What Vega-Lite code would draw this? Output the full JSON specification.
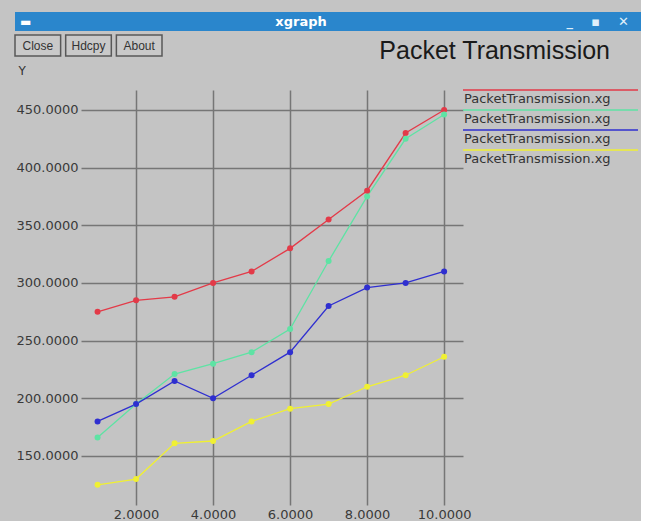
{
  "$schema": "https://vega.github.io/schema/vega-lite/v6.json",
  "background": "#c4c4c4",
  "padding": {"left": 14, "top": 12, "right": 0, "bottom": 0},
  "config": {"view": {"stroke": null}, "font": "DejaVu Sans"},
  "datasets": {
    "series": [
      {"s": "s1", "x": 1, "y": 275}, {"s": "s1", "x": 2, "y": 285}, {"s": "s1", "x": 3, "y": 288}, {"s": "s1", "x": 4, "y": 300}, {"s": "s1", "x": 5, "y": 310},
      {"s": "s1", "x": 6, "y": 330}, {"s": "s1", "x": 7, "y": 355}, {"s": "s1", "x": 8, "y": 380}, {"s": "s1", "x": 9, "y": 430}, {"s": "s1", "x": 10, "y": 450},
      {"s": "s2", "x": 1, "y": 166}, {"s": "s2", "x": 2, "y": 195}, {"s": "s2", "x": 3, "y": 221}, {"s": "s2", "x": 4, "y": 230}, {"s": "s2", "x": 5, "y": 240},
      {"s": "s2", "x": 6, "y": 260}, {"s": "s2", "x": 7, "y": 319}, {"s": "s2", "x": 8, "y": 375}, {"s": "s2", "x": 9, "y": 425}, {"s": "s2", "x": 10, "y": 446},
      {"s": "s3", "x": 1, "y": 180}, {"s": "s3", "x": 2, "y": 195}, {"s": "s3", "x": 3, "y": 215}, {"s": "s3", "x": 4, "y": 200}, {"s": "s3", "x": 5, "y": 220},
      {"s": "s3", "x": 6, "y": 240}, {"s": "s3", "x": 7, "y": 280}, {"s": "s3", "x": 8, "y": 296}, {"s": "s3", "x": 9, "y": 300}, {"s": "s3", "x": 10, "y": 310},
      {"s": "s4", "x": 1, "y": 125}, {"s": "s4", "x": 2, "y": 130}, {"s": "s4", "x": 3, "y": 161}, {"s": "s4", "x": 4, "y": 163}, {"s": "s4", "x": 5, "y": 180},
      {"s": "s4", "x": 6, "y": 191}, {"s": "s4", "x": 7, "y": 195}, {"s": "s4", "x": 8, "y": 210}, {"s": "s4", "x": 9, "y": 220}, {"s": "s4", "x": 10, "y": 236}
    ],
    "legend": [
      {"s": "s1", "label": "PacketTransmission.xg"},
      {"s": "s2", "label": "PacketTransmission.xg"},
      {"s": "s3", "label": "PacketTransmission.xg"},
      {"s": "s4", "label": "PacketTransmission.xg"}
    ],
    "buttons": [{"b": "Close"}, {"b": "Hdcpy"}, {"b": "About"}]
  },
  "spacing": 3,
  "vconcat": [
    {
      "width": 626,
      "height": 19,
      "view": {"fill": "#2a86cc", "stroke": null},
      "layer": [
        {
          "data": {"values": [{"t": "xgraph"}]},
          "mark": {"type": "text", "color": "white", "fontWeight": "bold", "fontSize": 13, "font": "DejaVu Sans", "dx": -27},
          "encoding": {"text": {"field": "t"}}
        },
        {
          "data": {"values": [{"t": "_\u00a0\u00a0\u00a0\u00a0▪\u00a0\u00a0\u00a0\u00a0✕"}]},
          "mark": {"type": "text", "color": "#dfeefa", "fontWeight": "bold", "fontSize": 13, "font": "DejaVu Sans", "align": "right", "dx": -12},
          "encoding": {"text": {"field": "t"}, "x": {"value": "width"}}
        },
        {
          "data": {"values": [{"t": "▬"}]},
          "mark": {"type": "text", "color": "white", "fontSize": 12, "font": "DejaVu Sans", "align": "left", "dx": 5},
          "encoding": {"text": {"field": "t"}, "x": {"value": 0}}
        }
      ]
    },
    {
      "spacing": 0,
      "vconcat": [
        {
          "spacing": 0,
          "hconcat": [
            {
              "width": 147,
              "height": 21,
              "data": {"name": "buttons"},
              "encoding": {
                "x": {"field": "b", "type": "nominal", "sort": null, "axis": null, "scale": {"paddingInner": 0.1, "paddingOuter": 0}}
              },
              "layer": [
                {"mark": {"type": "bar", "fill": "#c9c9c9", "stroke": "#585858", "strokeWidth": 1.5}},
                {"mark": {"type": "text", "fontSize": 12, "font": "Liberation Sans", "color": "#333333"}, "encoding": {"text": {"field": "b"}}}
              ]
            },
            {
              "width": 447,
              "height": 28,
              "data": {"values": [{"t": "Packet Transmission"}]},
              "mark": {"type": "text", "align": "right", "fontSize": 25, "font": "Liberation Sans", "color": "#1a1a1a", "dy": 2},
              "encoding": {"text": {"field": "t"}, "x": {"value": "width"}}
            }
          ]
        },
        {
          "spacing": 0,
          "bounds": "flush",
          "hconcat": [
            {
              "width": 66,
              "height": 415,
              "data": {"values": [{"t": ""}]},
              "mark": {"type": "text"},
              "encoding": {"text": {"field": "t"}}
            },
            {
              "width": 382,
              "height": 415,
              "data": {"name": "series"},
              "encoding": {
                "x": {
                  "field": "x", "type": "quantitative",
                  "scale": {"domain": [0.57, 10.49], "nice": false, "zero": false},
                  "axis": {
                    "values": [2, 4, 6, 8, 10], "format": ".4f", "title": null, "domain": false, "ticks": false,
                    "grid": true, "gridColor": "#767676", "gridWidth": 1.5, "gridOpacity": 1,
                    "labelFont": "DejaVu Sans", "labelFontSize": 13, "labelColor": "#3a3a3a", "labelPadding": 3, "labelOverlap": false
                  }
                },
                "y": {
                  "field": "y", "type": "quantitative",
                  "scale": {"domain": [107.5, 467.3], "nice": false, "zero": false},
                  "axis": {
                    "values": [150, 200, 250, 300, 350, 400, 450], "format": ".4f", "domain": false, "ticks": false,
                    "grid": true, "gridColor": "#767676", "gridWidth": 1.5, "gridOpacity": 1,
                    "labelFont": "DejaVu Sans", "labelFontSize": 13, "labelColor": "#3a3a3a", "labelPadding": 3,
                    "title": "Y", "titleAngle": 0, "titleAlign": "left", "titleBaseline": "top", "titleX": -63, "titleY": -25,
                    "titleFont": "DejaVu Sans", "titleFontSize": 12, "titleFontWeight": "normal", "titleColor": "#333333"
                  }
                },
                "color": {
                  "field": "s", "type": "nominal", "legend": null,
                  "scale": {"domain": ["s1", "s2", "s3", "s4"], "range": ["#e33a48", "#5ee3a4", "#2f2fd0", "#f0f032"]}
                }
              },
              "layer": [
                {"mark": {"type": "line", "strokeWidth": 1.3}},
                {"mark": {"type": "point", "filled": true, "size": 36, "opacity": 1}}
              ]
            },
            {
              "width": 175,
              "height": 60,
              "data": {"name": "legend"},
              "encoding": {
                "y": {"field": "s", "type": "nominal", "axis": null, "scale": {"type": "point", "range": [0, 60], "padding": 0}}
              },
              "layer": [
                {
                  "mark": {"type": "rule", "strokeWidth": 1.5},
                  "encoding": {
                    "color": {
                      "field": "s", "type": "nominal", "legend": null,
                      "scale": {"domain": ["s1", "s2", "s3", "s4"], "range": ["#e33a48", "#5ee3a4", "#2f2fd0", "#f0f032"]}
                    }
                  }
                },
                {
                  "mark": {"type": "text", "align": "left", "baseline": "middle", "dy": 9, "dx": 1, "fontSize": 13, "font": "DejaVu Sans", "color": "#333333"},
                  "encoding": {"text": {"field": "label"}, "x": {"value": 0}}
                }
              ]
            }
          ]
        }
      ]
    }
  ]
}
